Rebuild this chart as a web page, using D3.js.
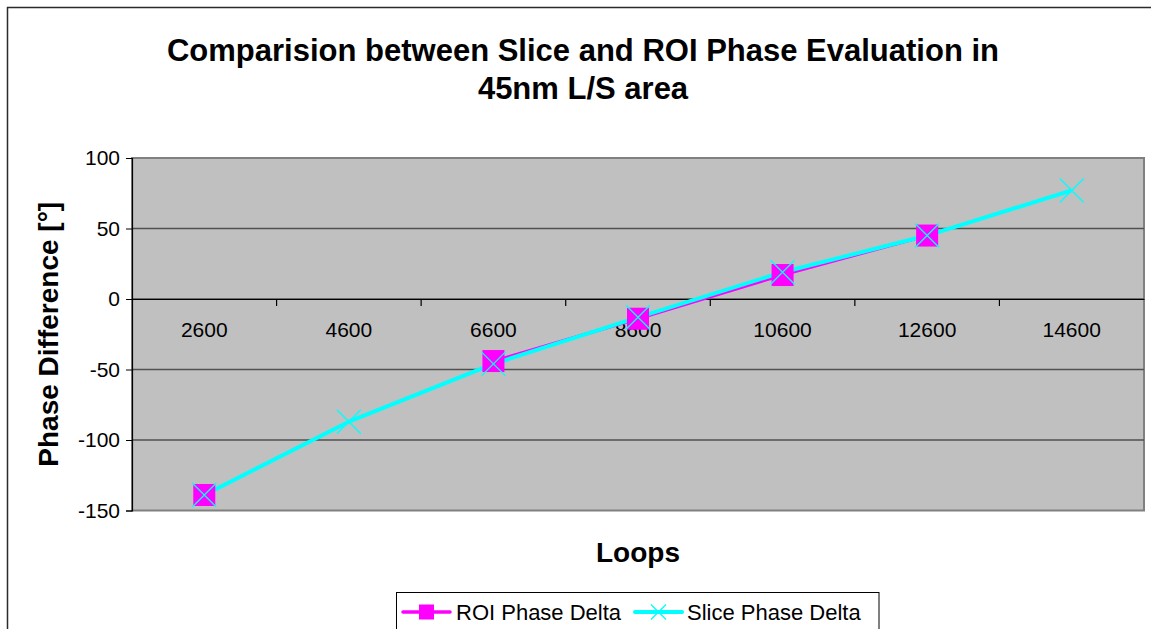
<!DOCTYPE html>
<html>
<head>
<meta charset="utf-8">
<script src="https://cdn.jsdelivr.net/npm/d3@7"></script>
<style>
  html, body { margin: 0; padding: 0; background: #ffffff; }
  svg { display: block; font-family: "Liberation Sans", Arial, sans-serif; }
</style>
</head>
<body>
<svg id="chart" width="1151" height="629"></svg>
<script>
// Loop counts on the category axis
const categories = ["2600", "4600", "6600", "8600", "10600", "12600", "14600"];
// Phase difference in degrees; null = no measurement
const roiValues   = [-139, null, -44, -14, 17, 45, null];
const sliceValues = [-139, -87, -46, -13, 19, 45, 77];
const yTicks = [-150, -100, -50, 0, 50, 100];

const titleLines = ["Comparision between Slice and ROI Phase Evaluation in", "45nm L/S area"];
const xTitle = "Loops";
const yTitle = "Phase Difference [°]";
const seriesNames = ["ROI Phase Delta", "Slice Phase Delta"];

const ROI_COLOR = "#ff00ff";
const SLICE_COLOR = "#00ffff";

const svg = d3.select("#chart");
const plot = { left: 132, right: 1144, top: 158, bottom: 510.5 };

// Outer chart frame (runs off the right and bottom edges)
svg.append("path")
  .attr("d", `M7.5,629 L7.5,7.5 L1151,7.5`)
  .attr("fill", "none").attr("stroke", "#2b2b2b").attr("stroke-width", 1.5);

const x = d3.scaleBand().domain(categories).range([plot.left, plot.right]).padding(0);
const y = d3.scaleLinear().domain([-150, 100]).range([plot.bottom, plot.top]);

// Plot area
svg.append("rect")
  .attr("x", plot.left).attr("y", plot.top)
  .attr("width", plot.right - plot.left).attr("height", plot.bottom - plot.top)
  .attr("fill", "#c0c0c0").attr("stroke", "#808080").attr("stroke-width", 2);

// Horizontal gridlines
svg.append("g").selectAll("line")
  .data(yTicks.filter(t => t !== -150 && t !== 100))
  .join("line")
  .attr("x1", plot.left).attr("x2", plot.right)
  .attr("y1", d => y(d)).attr("y2", d => y(d))
  .attr("stroke", "#505050").attr("stroke-width", 1.3);

// Value axis (plain hyphen for negatives)
const yAxis = d3.axisLeft(y).tickValues(yTicks).tickSize(6).tickPadding(6).tickFormat(d => String(d));
const gy = svg.append("g").attr("transform", `translate(${plot.left},0)`).call(yAxis);
gy.select(".domain").attr("stroke", "#000").attr("stroke-width", 1.2);
gy.selectAll(".tick line").attr("stroke", "#000");
gy.selectAll(".tick text")
  .attr("font-size", 21).attr("fill", "#000")
  .attr("font-family", "'Liberation Sans', Arial, sans-serif");

// Category axis crossing at zero
const xAxis = d3.axisBottom(x).tickSize(0).tickPadding(23);
const gx = svg.append("g").attr("transform", `translate(0,${y(0)})`).call(xAxis);
gx.select(".domain").attr("stroke", "#000").attr("stroke-width", 1.2);
gx.selectAll(".tick text")
  .attr("font-size", 21).attr("fill", "#000")
  .attr("font-family", "'Liberation Sans', Arial, sans-serif");
// Tick marks on category boundaries
svg.append("g").selectAll("line")
  .data(categories.slice(1))
  .join("line")
  .attr("x1", d => x(d)).attr("x2", d => x(d))
  .attr("y1", y(0)).attr("y2", y(0) + 7)
  .attr("stroke", "#000").attr("stroke-width", 1.2);

const cx = c => x(c) + x.bandwidth() / 2;
const roi = categories.map((c, i) => ({ c, v: roiValues[i] }));
const slice = categories.map((c, i) => ({ c, v: sliceValues[i] }));

const line = d3.line().defined(d => d.v != null).x(d => cx(d.c)).y(d => y(d.v));

svg.append("path").datum(roi)
  .attr("d", line).attr("fill", "none")
  .attr("stroke", ROI_COLOR).attr("stroke-width", 3).attr("stroke-linejoin", "round");
svg.append("path").datum(slice)
  .attr("d", line).attr("fill", "none")
  .attr("stroke", SLICE_COLOR).attr("stroke-width", 4).attr("stroke-linejoin", "round");

// Square markers
const sq = 22;
svg.append("g").selectAll("rect")
  .data(roi.filter(d => d.v != null))
  .join("rect")
  .attr("x", d => cx(d.c) - sq / 2).attr("y", d => y(d.v) - sq / 2)
  .attr("width", sq).attr("height", sq)
  .attr("fill", ROI_COLOR);

// Cross markers
const xs = 12;
svg.append("g").selectAll("path")
  .data(slice.filter(d => d.v != null))
  .join("path")
  .attr("d", d => {
    const px = cx(d.c), py = y(d.v);
    return `M${px - xs},${py - xs}L${px + xs},${py + xs}M${px - xs},${py + xs}L${px + xs},${py - xs}`;
  })
  .attr("stroke", SLICE_COLOR).attr("stroke-width", 1.3).attr("fill", "none");

// Titles
svg.append("g").selectAll("text")
  .data(titleLines)
  .join("text")
  .attr("x", 583).attr("y", (d, i) => 61 + i * 38)
  .attr("text-anchor", "middle")
  .attr("font-size", 31).attr("font-weight", "bold").attr("fill", "#000")
  .text(d => d);

svg.append("text")
  .attr("x", (plot.left + plot.right) / 2).attr("y", 562)
  .attr("text-anchor", "middle")
  .attr("font-size", 28).attr("font-weight", "bold").attr("fill", "#000")
  .text(xTitle);

svg.append("text")
  .attr("transform", `translate(58,${(plot.top + plot.bottom) / 2}) rotate(-90)`)
  .attr("text-anchor", "middle")
  .attr("font-size", 28).attr("font-weight", "bold").attr("fill", "#000")
  .text(yTitle);

// Legend
const legend = svg.append("g");
legend.append("rect")
  .attr("x", 396.5).attr("y", 592.5).attr("width", 482.5).attr("height", 60)
  .attr("fill", "#fff").attr("stroke", "#000").attr("stroke-width", 1);

const legendItems = [
  { name: seriesNames[0], color: ROI_COLOR, x0: 403, tx: 456, marker: "square" },
  { name: seriesNames[1], color: SLICE_COLOR, x0: 635, tx: 687, marker: "cross" }
];
const ly = 612;
legendItems.forEach(it => {
  legend.append("line")
    .attr("x1", it.x0).attr("x2", it.x0 + 47).attr("y1", ly).attr("y2", ly)
    .attr("stroke", it.color).attr("stroke-width", it.marker === "square" ? 3.5 : 4)
    .attr("stroke-linecap", "round");
  const mx = it.x0 + 23.5;
  if (it.marker === "square") {
    legend.append("rect").attr("x", mx - 7.5).attr("y", ly - 7.5)
      .attr("width", 15).attr("height", 15).attr("fill", it.color);
  } else {
    const s = 7.5;
    legend.append("path")
      .attr("d", `M${mx - s},${ly - s}L${mx + s},${ly + s}M${mx - s},${ly + s}L${mx + s},${ly - s}`)
      .attr("stroke", it.color).attr("stroke-width", 1.3);
  }
  legend.append("text")
    .attr("x", it.tx).attr("y", ly + 8)
    .attr("font-size", 22).attr("fill", "#000")
    .text(it.name);
});
</script>
</body>
</html>
